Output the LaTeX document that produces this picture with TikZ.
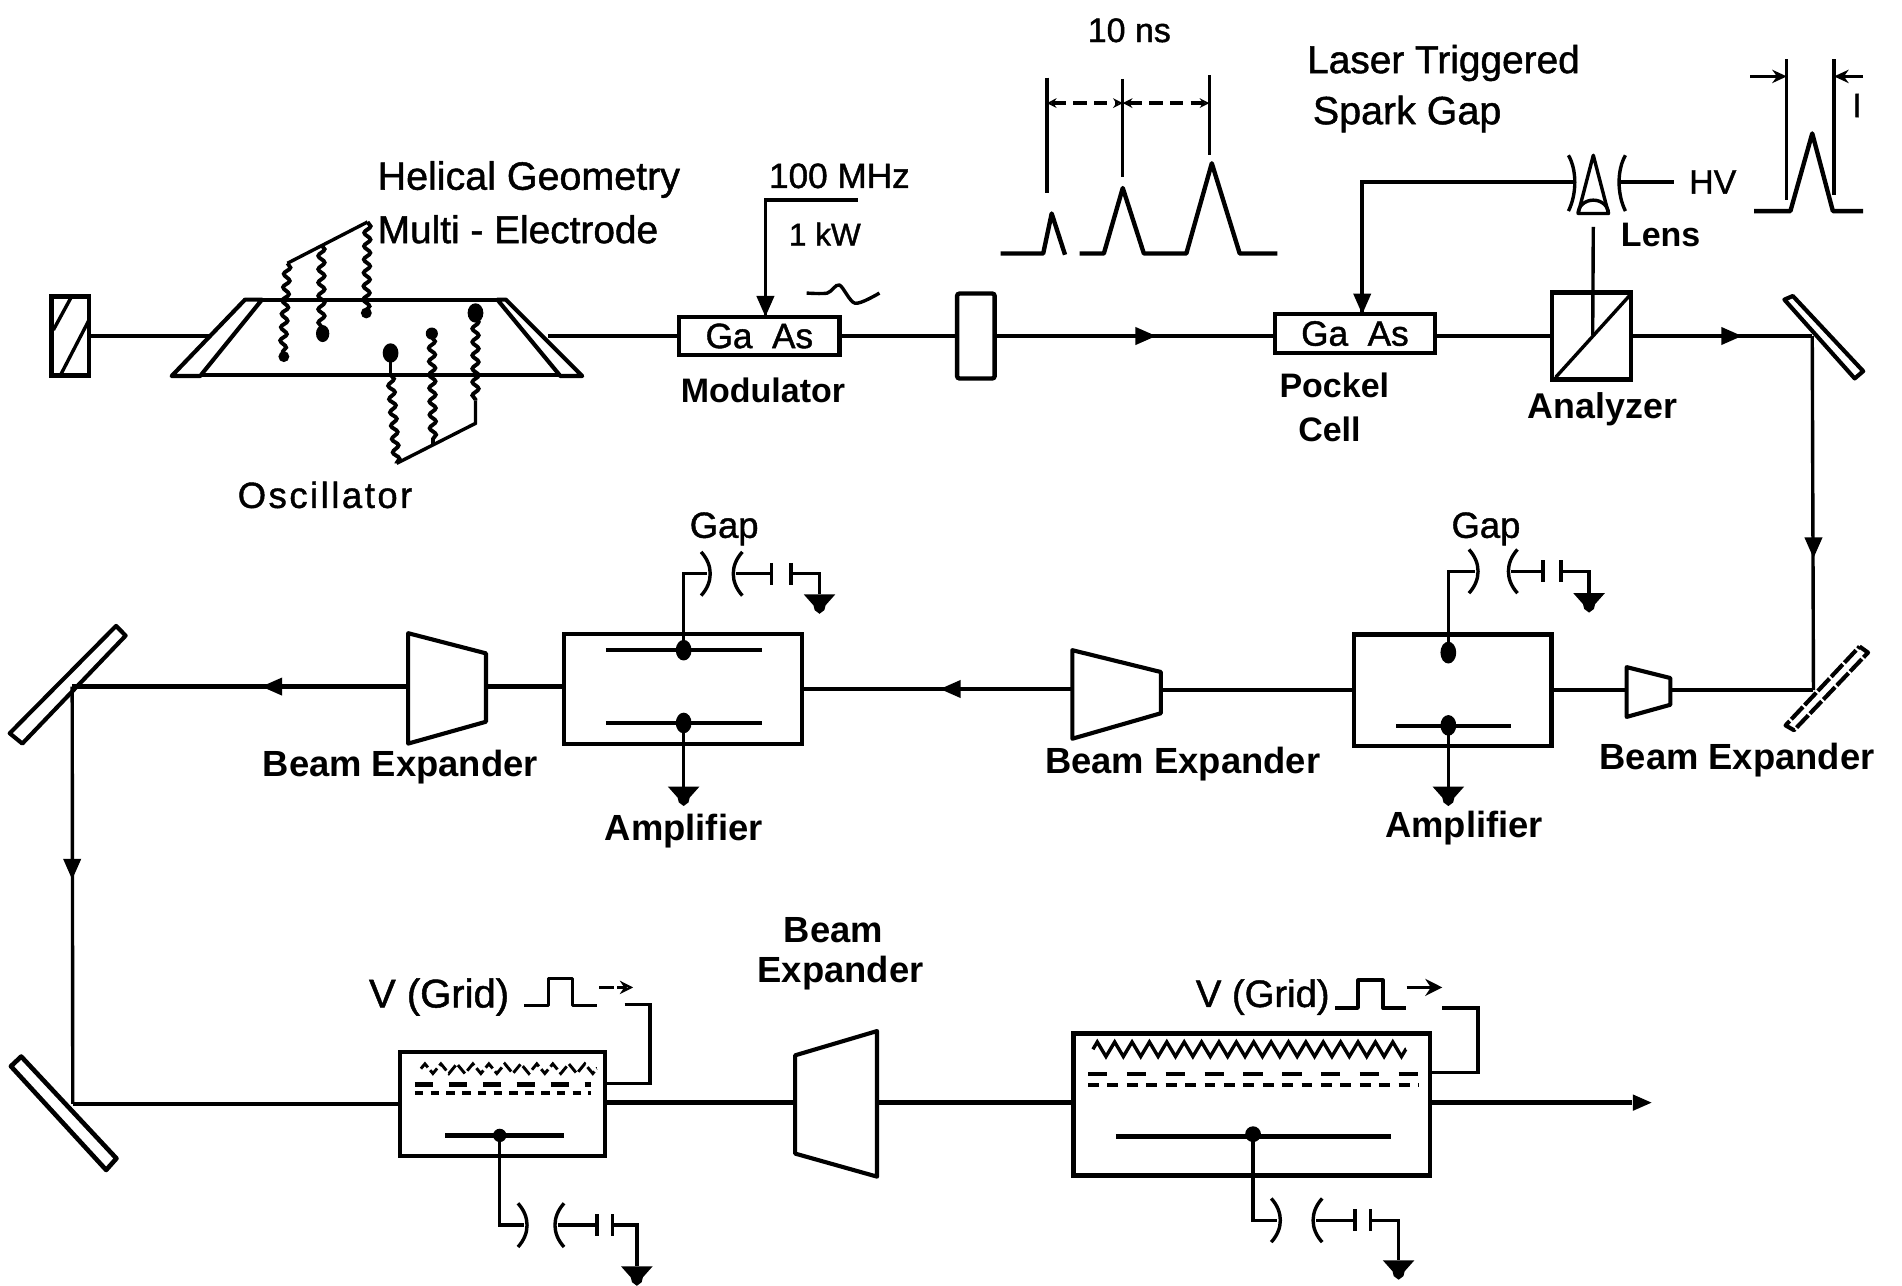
\documentclass[tikz,border=0pt]{standalone}
\usepackage{fontspec}
\setmainfont{Liberation Sans}
\newfontfamily\medfont[FakeBold=1.2]{Liberation Sans}
\usetikzlibrary{arrows.meta,decorations.pathmorphing}
\tikzset{
  lab/.style={inner sep=0pt,outer sep=0pt,font=\fontsize{#1}{#1}\selectfont\medfont},
  labb/.style={inner sep=0pt,outer sep=0pt,font=\fontsize{#1}{#1}\selectfont\bfseries},
  beam/.style={line width=3.6pt},
  wire/.style={line width=2.8pt},
  optic/.style={line width=3.4pt,line join=round},
  boxnode/.style={draw,line width=3.6pt,inner sep=0pt,outer sep=0pt,minimum width=#1},
  coil/.style={line width=3.2pt,decorate,decoration={snake,amplitude=2.6pt,segment length=11pt}},
  head/.pic={\fill (0,0) -- (-17,-7.5) -- (-17,7.5) -- cycle;},
  grounded/.pic={\fill (-13,0) -- (13,0) -- (5,9) -- (4,13) -- (0,16) -- (-4,13) -- (-5,9) -- cycle;},
}
% name, xL, xR, plate 1, plate 2, ground x, y, ground y
\newcommand{\sparkunit}[8]{%
  \coordinate (#1in) at (#2,#7);
  \coordinate (#1out) at (#3,#7);
  \coordinate (#1p) at (#4,#7);
  \coordinate (#1q) at (#5,#7);
  \draw[wire] (#2-5,#7-18) .. controls (#2+5,#7-7) and (#2+5,#7+7) .. (#2-5,#7+18);
  \draw[wire] (#3+5,#7-18) .. controls (#3-5,#7-7) and (#3-5,#7+7) .. (#3+5,#7+18);
  \draw[wire] (#1out) -- (#1p);
  \draw[wire] (#4,#7-9) -- (#4,#7+9);
  \draw[wire] (#5,#7-9) -- (#5,#7+9);
  \draw[wire] (#1q) -- (#6,#7) -- (#6,#8);
  \pic at (#6,#8) {grounded};
}
\begin{document}
\begin{tikzpicture}[x=1pt,y=-1pt]
\useasboundingbox (0,0) rectangle (1568,1060);

% ---- top row ----
\node[boxnode=31pt,minimum height=65pt] (endm) at (58,277) {};
\draw[wire] (44,272) -- (59,244.5);
\draw[wire] (50,309) -- (73.5,263.6);

\coordinate (oscL) at (172,277);
\coordinate (oscR) at (452,277);
\draw[optic] (202,247) -- (141.5,310) -- (165,310) -- (216,247) -- cycle;
\draw[optic] (417,247) -- (480,310) -- (462,310) -- (410,247) -- cycle;
\draw[optic] (216,247) -- (410,247);
\draw[optic] (165,309) -- (462,309);
\draw[beam] (endm.east) -- (oscL);

% electrodes
\coordinate (e1t) at (237,217); \coordinate (e1b) at (233,292);
\coordinate (e2t) at (265,202); \coordinate (e2b) at (265,272);
\coordinate (e3t) at (303,183); \coordinate (e3b) at (302,256);
\coordinate (e4t) at (322,309); \coordinate (e4b) at (327,382);
\coordinate (e5t) at (356,278); \coordinate (e5b) at (357,367);
\coordinate (e6t) at (392,262); \coordinate (e6b) at (392,330);
\draw[coil] (e1t) -- (e1b);
\draw[coil] (e2t) -- (e2b);
\draw[coil] (e3t) -- (e3b);
\draw[coil] (e4t) -- (e4b);
\draw[coil] (e5t) -- (e5b);
\draw[coil] (e6t) -- (e6b);
\draw[wire] (e1t) -- (e3t);
\draw[wire] (e6b) -- (392,349) -- (e4b);
\draw[wire] (322,291) -- (e4t);
\fill (234,294) circle (4.5);
\fill (266,275) ellipse (5.5 and 7);
\fill (302,258) circle (4.5);
\fill (322,291) ellipse (6.5 and 8);
\fill (356,275) circle (5);
\fill (392,258) ellipse (6.5 and 8);

\node[lab=32.5] (thelical) at (436,148) {Helical Geometry};
\node[lab=32] (tmulti) at (427,189) {Multi - Electrode};
\node[lab=30] (tosc) at (268,408) {\addfontfeature{LetterSpace=7}Oscillator};

% modulator
\node[boxnode=132pt,minimum height=31pt,lab=29] (gaasA) at (626,277) {Ga\ \ As};
\draw[beam] (oscR) -- (gaasA.west);
\coordinate (rfS) at (707,165);
\draw[wire] (rfS) -- (631,165) -- (gaasA.north -| 631,0);
\pic[rotate=-90] at (631,261) {head};
\node[lab=29] (t100) at (692,145) {100 MHz};
\node[lab=26] (t1kw) at (680,193) {1 kW};
\draw[wire] plot[smooth] coordinates {(665,241.6) (682,241.6) (692,235) (705,250) (725,241.6)};
\node[labb=28] (tmod) at (629,322) {Modulator};

% element between
\node[boxnode=31pt,minimum height=70pt,rounded corners=2pt] (etalon) at (804.5,277) {};
\draw[beam] (gaasA.east) -- (etalon.west);

% pockel cell
\node[boxnode=132pt,minimum height=32pt,lab=29] (gaasB) at (1117,275) {Ga\ \ As};
\draw[beam] (etalon.east) -- (gaasB.west |- etalon.east);
\pic at (953,277) {head};
\node[labb=28] (tpock) at (1100,318) {Pockel};
\node[labb=28] (tcell) at (1096,354) {Cell};

% analyzer
\node[boxnode=65pt,minimum height=72pt] (analyzer) at (1312,277) {};
\draw[wire] (analyzer.south west) ++(3,-2) -- (1344,243);
\draw[beam] (gaasB.east |- analyzer.west) -- (analyzer.west);
\node[labb=29.5] (tana) at (1321,337) {Analyzer};

% mirror top right
\coordinate (mA) at (1494,277);
\draw[optic] (1471,247) -- (1478,244) -- (1536,306) -- (1529,312) -- cycle;
\draw[beam] (analyzer.east) -- (mA);
\pic at (1436,277) {head};

% laser triggered spark gap
\coordinate (lensTop) at (1313.5,128);
\coordinate (lensBot) at (1313.5,187);
\draw[wire,line join=round] (lensTop) -- (1301,176) -- (1326,176) -- cycle;
\draw[wire] (1301,176) arc[start angle=180,end angle=0,x radius=12.5,y radius=-11];
\draw[wire] (lensBot) -- (1313,276);
\draw[wire] (1293,128) .. controls (1300,140) and (1300,160) .. (1293,174);
\draw[wire] (1340,128) .. controls (1333,140) and (1333,160) .. (1340,174);
\coordinate (gapL) at (1297,150);
\coordinate (gapR) at (1336,150);
\coordinate (hvEnd) at (1380,150);
\draw[beam] (gapL) -- (1123,150) -- (1123,259);
\pic[rotate=-90] at (1123,259) {head};
\draw[wire] (gapR) -- (hvEnd);
\node[lab=28] (thv) at (1412,150) {HV};
\node[labb=28] (tlens) at (1369,194) {Lens};
\node[lab=32] (tlaser) at (1190,52) {Laser Triggered};
\node[lab=32.5] (tspark) at (1160,94) {Spark Gap};

% pulses
\draw[beam,line join=round] (825,209) -- (860,209) -- (867,176) -- (878,210);
\draw[beam,line join=round] (890,209) -- (910,209) -- (925.6,155) -- (943,209) -- (978,209) -- (999,134.6) -- (1022,209) -- (1053,209);
\coordinate (v1t) at (863,64); \coordinate (v1b) at (863,159);
\coordinate (v2t) at (925.6,65); \coordinate (v2b) at (925.6,146);
\coordinate (v3t) at (997,62); \coordinate (v3b) at (997,128);
\draw[wire] (v1t) -- (v1b);
\draw[wire] (v2t) -- (v2b);
\draw[wire] (v3t) -- (v3b);
\draw[wire,dash pattern=on 11pt off 6pt,{Stealth[open,length=8pt,width=8pt]}-{Stealth[open,length=8pt,width=8pt]}] (863,85) -- (925.6,85);
\draw[wire,dash pattern=on 11pt off 6pt,{Stealth[length=8pt,width=8pt]}-{Stealth[open,length=8pt,width=8pt]}] (925.6,85) -- (997,85);
\node[lab=28] (t10ns) at (931,25) {10 ns};

\draw[beam,line join=round] (1446,174) -- (1476,174) -- (1494,110) -- (1511,174) -- (1536,174);
\coordinate (w1t) at (1473,49); \coordinate (w1b) at (1473,165);
\coordinate (w2t) at (1512,49); \coordinate (w2b) at (1512,161);
\draw[wire] (w1t) -- (w1b);
\draw[wire] (w2t) -- (w2b);
\draw[wire,-{Stealth[length=12pt,width=11pt]}] (1443,63) -- (w1t |- 1443,63);
\draw[wire,-{Stealth[length=12pt,width=11pt]}] (1536,63) -- (w2t |- 1536,63);
\node[lab=28] (tone) at (1531,87) {I};

% ---- middle row ----
\coordinate (mB) at (1495,569);
\draw[wire] (mA) -- (mB);
\pic[rotate=-90] at (1495,460) {head};
\draw[line width=3.4pt,dash pattern=on 14pt off 2pt,line join=round] (1533,533) -- (1540,538) -- (1479,602) -- (1472,598) -- cycle;

\coordinate (be1a) at (1341,550); \coordinate (be1b) at (1377,559); \coordinate (be1c) at (1377,581); \coordinate (be1d) at (1341,591);
\draw[optic] (be1a) -- (be1b) -- (be1c) -- (be1d) -- cycle;
\draw[beam] (mB) -- (1377,569);
\node[labb=30] (tbe1) at (1432,627) {Beam Expander};

\node[boxnode=163pt,minimum height=92pt] (ampR) at (1197.5,569) {};
\draw[beam] (1341,569) -- (ampR.east);
\coordinate (arT) at (1194,538);
\coordinate (arB) at (1194,598);
\fill (arT) ellipse (6.5 and 9);
\draw[line width=3.8pt] (1151,598.5) -- (1246,598.5);
\fill (arB) ellipse (6.5 and 8.5);
\sparkunit{gr}{1216}{1246}{1272}{1287}{1310}{471}{489}
\draw[wire] (arT) -- (1194,471) -- (grin);
\draw[wire] (arB) -- (1194,648.5);
\pic at (1194,648.5) {grounded};
\node[lab=30] (tgapr) at (1225,436) {Gap};
\node[labb=30] (tampr) at (1207,683) {Amplifier};

\coordinate (be2a) at (884,536); \coordinate (be2b) at (957,554); \coordinate (be2c) at (957,588); \coordinate (be2d) at (884,609);
\draw[optic] (be2a) -- (be2b) -- (be2c) -- (be2d) -- cycle;
\draw[beam] (ampR.west) -- (957,569);
\node[labb=30] (tbe2) at (975,630) {Beam Expander};

\node[boxnode=196pt,minimum height=91pt] (ampL) at (563,568) {};
\draw[beam] (884,568) -- (ampL.east);
\pic[rotate=180] at (775,568) {head};
\coordinate (alT) at (563.6,536);
\coordinate (alB) at (563.6,596);
\draw[line width=3.8pt] (499.5,536) -- (628,536);
\draw[line width=3.8pt] (499.5,596) -- (628,596);
\fill (alT) ellipse (6.5 and 8.5);
\fill (alB) ellipse (6.5 and 8.5);
\sparkunit{gl}{583}{607}{636}{652}{675.6}{473}{490}
\draw[wire] (alT) -- (563.6,473) -- (glin);
\draw[wire] (alB) -- (563.6,648.5);
\pic at (563.6,648.5) {grounded};
\node[lab=30] (tgapl) at (597,436) {Gap};
\node[labb=30] (tampl) at (563.6,685) {Amplifier};

\coordinate (be3a) at (336.5,522); \coordinate (be3b) at (400.6,538.6); \coordinate (be3c) at (400.6,595); \coordinate (be3d) at (336.5,613);
\draw[optic] (be3a) -- (be3b) -- (be3c) -- (be3d) -- cycle;
\draw[beam] (ampL.west |- 400.6,566) -- (400.6,566);
\node[labb=30] (tbe3) at (330,632) {Beam Expander};

\coordinate (mC) at (59.5,566);
\draw[beam] (336.5,566) -- (mC);
\pic[rotate=180] at (215.6,566) {head};
\draw[optic] (95.7,516) -- (103.6,524) -- (18.4,613) -- (8,604.5) -- cycle;

% ---- bottom row ----
\coordinate (mD) at (60,910);
\draw[wire] (mC) -- (mD);
\pic[rotate=-90] at (59.5,725) {head};
\draw[optic,line width=3.8pt] (17.5,871) -- (9,879) -- (87.5,964.5) -- (96,955) -- cycle;

\node[boxnode=169pt,minimum height=86pt] (boxA) at (414.5,910) {};
\draw[beam] (mD) -- (boxA.west);
\draw[line width=2.4pt,decorate,decoration={zigzag,amplitude=4pt,segment length=13.18pt},dash pattern=on 9pt off 3pt] (347,881) -- (492,881);
\draw[line width=3.4pt,dash pattern=on 15pt off 13pt] (342,894) -- (487,894);
\draw[line width=3.4pt,dash pattern=on 7pt off 6pt] (342,901) -- (487,901);
\draw[line width=3.6pt] (367,936) -- (465,936);
\coordinate (baP) at (412,936);
\fill (baP) circle (5.5);
\sparkunit{ga}{432}{460}{492}{505}{525}{1010}{1044}
\draw[wire] (baP) -- (412,1010) -- (gain);
\node[lab=33] (tvg1) at (362,822) {V (Grid)};
\draw[wire,line join=round] (432,829) -- (452,829) -- (452,806.5) -- (472,806.5) -- (472,829) -- (492,829);
\draw[wire,-{Stealth[open,length=11pt,width=11pt]},dash pattern=on 12pt off 3pt] (494,814) -- (522,814);
\draw[wire] (515,828) -- (536,828) -- (536,893) -- (boxA.east |- 536,893);

\coordinate (be4a) at (655.5,870); \coordinate (be4b) at (723,850); \coordinate (be4c) at (723,970); \coordinate (be4d) at (655.5,951);
\draw[optic] (be4a) -- (be4b) -- (be4c) -- (be4d) -- cycle;
\draw[beam] (boxA.east |- 655,909) -- (655.5,909);
\node[labb=30] (tbe4a) at (687,767) {Beam};
\node[labb=30] (tbe4b) at (693,802) {Expander};

\node[boxnode=294pt,minimum height=117pt] (boxB) at (1032,910.5) {};
\draw[beam] (723,909) -- (boxB.west |- 723,909);
\draw[line width=2.8pt,decorate,decoration={zigzag,amplitude=6pt,segment length=14.33pt}] (901,865) -- (1159,865);
\draw[line width=3.4pt,dash pattern=on 16pt off 16pt] (897,885.4) -- (1170,885.4);
\draw[line width=3.4pt,dash pattern=on 9pt off 7pt] (897,894.5) -- (1170,894.5);
\draw[line width=3.8pt] (920,937) -- (1147,937);
\coordinate (bbP) at (1033,935);
\fill (bbP) circle (6.5);
\sparkunit{gb}{1053}{1085}{1117}{1130}{1153}{1006}{1039}
\draw[wire] (bbP) -- (1033,1006) -- (gbin);
\node[lab=31.5] (tvg2) at (1041,822) {V (Grid)};
\draw[wire,line join=round] (1100.6,831) -- (1119.6,831) -- (1119.6,808) -- (1140,808) -- (1140,831) -- (1159,831);
\draw[wire,-{Stealth[length=14pt,width=14pt]}] (1159.5,814) -- (1189,814);
\draw[wire] (1189,831) -- (1218.4,831) -- (1218.4,884) -- (boxB.east |- 1218,884);
\coordinate (outEnd) at (1345,909);
\draw[beam] (boxB.east |- 1218,909) -- (outEnd);
\pic[scale=.9] at (1361.5,909) {head};
\end{tikzpicture}
\end{document}
